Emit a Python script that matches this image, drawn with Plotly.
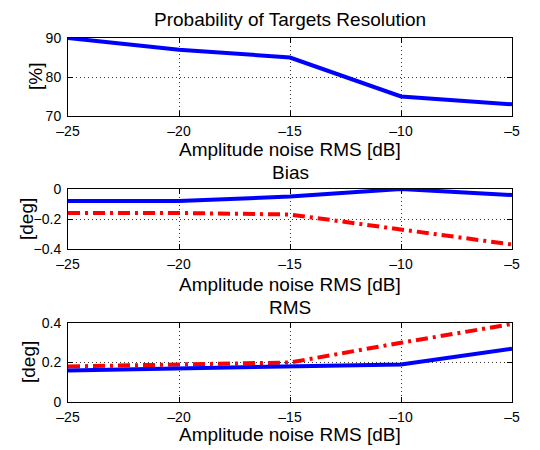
import plotly.graph_objects as go

x = [-25, -20, -15, -10, -5]
prob = [90, 87, 85, 75, 73]
bias_blue = [-0.08, -0.08, -0.05, 0.0, -0.04]
bias_red = [-0.16, -0.16, -0.17, -0.27, -0.37]
rms_blue = [0.16, 0.17, 0.18, 0.19, 0.27]
rms_red = [0.18, 0.19, 0.20, 0.30, 0.395]

xticks = [-25, -20, -15, -10, -5]
xlabels = ["\u201325", "\u201320", "\u201315", "\u201310", "\u20135"]

W, H = 540, 450
def py(p):
    return 1 - p / H

fig = go.Figure()
BLUE = "#0000ff"
RED = "#ff0000"

fig.add_trace(go.Scatter(x=x, y=prob, mode="lines", line=dict(color=BLUE, width=4), xaxis="x", yaxis="y"))
fig.add_trace(go.Scatter(x=x, y=bias_blue, mode="lines", line=dict(color=BLUE, width=4), xaxis="x2", yaxis="y2"))
fig.add_trace(go.Scatter(x=x, y=bias_red, mode="lines", line=dict(color=RED, width=4, dash="12px,5px,3px,5px"), xaxis="x2", yaxis="y2"))
fig.add_trace(go.Scatter(x=x, y=rms_red, mode="lines", line=dict(color=RED, width=4, dash="12px,5px,3px,5px"), xaxis="x3", yaxis="y3"))
fig.add_trace(go.Scatter(x=x, y=rms_blue, mode="lines", line=dict(color=BLUE, width=4), xaxis="x3", yaxis="y3"))

font = dict(family="Liberation Sans, Arial, sans-serif", color="black")
xdom = [68 / W, 512 / W]
panels = [(38, 116, [70, 90], [70, 80, 90], ["70", "80", "90"], "[%]"),
          (189, 249, [-0.4, 0], [-0.4, -0.2, 0], ["\u22120.4", "\u22120.2", "0"], "[deg]"),
          (323, 402, [0, 0.4], [0, 0.2, 0.4], ["0", "0.2", "0.4"], "[deg]")]

common = dict(showline=True, linecolor="black", linewidth=1, mirror="ticks", ticks="inside",
              ticklen=5, tickcolor="black", showgrid=True, gridcolor="#333333", griddash="1px,3px",
              gridwidth=1, zeroline=False, automargin=False, tickfont=dict(size=14, **font))
layout = {}
for i, (top, bot, yr, yt, yl, ylab) in enumerate(panels):
    s = "" if i == 0 else str(i + 1)
    layout["xaxis" + s] = dict(domain=xdom, range=[-25, -5], tickvals=xticks, ticktext=xlabels,
                               anchor="y" + s, ticklabelstandoff=2, **common)
    layout["yaxis" + s] = dict(domain=[py(bot), py(top)], range=yr, tickvals=yt, ticktext=yl,
                               anchor="x" + s, ticklabelstandoff=3, **common)

fig.update_layout(**layout)

ann = []
titles = [("Probability of Targets Resolution", 20), ("Bias", 172), ("RMS", 307)]
for t, yy in titles:
    ann.append(dict(text=t, x=290 / W, y=py(yy), xref="paper", yref="paper", showarrow=False,
                    font=dict(size=19, **font), xanchor="center", yanchor="middle"))
for yy in [149, 284, 434]:
    ann.append(dict(text="Amplitude noise RMS [dB]", x=290 / W, y=py(yy), xref="paper", yref="paper",
                    showarrow=False, font=dict(size=19, **font), xanchor="center", yanchor="middle"))
for lab, xx, yy in [("[%]", 35, 77), ("[deg]", 26, 219), ("[deg]", 28, 362)]:
    ann.append(dict(text=lab, x=xx / W, y=py(yy), xref="paper", yref="paper", showarrow=False,
                    textangle=-90, font=dict(size=19, **font), xanchor="center", yanchor="middle"))

fig.update_layout(width=W, height=H, margin=dict(l=0, r=0, t=0, b=0, autoexpand=False), showlegend=False,
                  plot_bgcolor="white", paper_bgcolor="white", annotations=ann, font=font)

fig.write_html("out.html")
